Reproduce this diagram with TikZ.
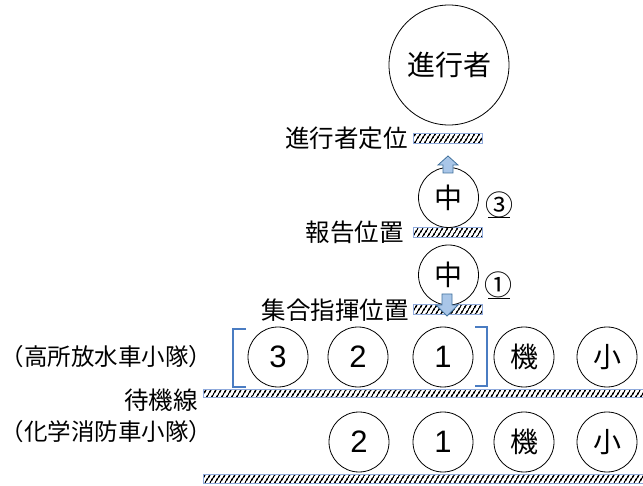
\documentclass[tikz,border=0pt]{standalone}
\usepackage{fontspec}
\setmainfont{Noto Sans CJK JP}
\newfontfamily\digitfont{Liberation Sans}
\usetikzlibrary{patterns.meta}
\definecolor{barblue}{HTML}{8FAADC}
\definecolor{brk}{HTML}{4A7CC2}
\definecolor{arrfill}{HTML}{A9C6E8}
\definecolor{arrline}{HTML}{41719C}
\tikzset{
  circ/.style={circle, draw, line width=0.8pt, inner sep=0pt, minimum size=60pt, font=\fontsize{28}{28}\selectfont},
  dcirc/.style={circ, font=\digitfont\fontsize{31}{31}\selectfont},
  bigcirc/.style={circ, minimum size=120pt},
  hbar/.style={draw=barblue, line width=1pt, inner sep=0pt, anchor=north west,
     pattern={Lines[angle=58,distance=4pt,line width=1.6pt]}, pattern color=black},
  lab/.style={font=\fontsize{24.5}{24.5}\selectfont, inner sep=0pt},
  plab/.style={font=\fontsize{23.5}{23.5}\selectfont, inner sep=0pt, anchor=west},
  cnum/.style={font=\fontsize{28}{28}\selectfont, inner sep=0pt},
  brack/.style={draw=brk, line width=1.6pt},
  blockarrow/.style={draw=arrline, fill=arrfill, line width=0.8pt, line join=miter}
}
\begin{document}
\begin{tikzpicture}[x=1pt,y=-1pt]
\useasboundingbox (0,0) rectangle (643,486);
\begin{scope}
\clip (0,0) rectangle (643,486);
% bars
\node[hbar, minimum width=69pt, minimum height=10pt] (b1) at (413,133) {};
\node[hbar, minimum width=69pt, minimum height=10pt] (b2) at (413,227) {};
\node[hbar, minimum width=69pt, minimum height=10pt] (b3) at (413,304) {};
\node[hbar, minimum width=450pt, minimum height=8pt] (b4) at (203,389) {};
\node[hbar, minimum width=450pt, minimum height=9pt] (b5) at (203,474) {};
\end{scope}
% top circle
\node[bigcirc] (lead) at (449,65) {進行者};
% middle circles
\node[circ] (m1) at (448.5,197.5) {中};
\node[circ] (m2) at (448.5,275) {中};
% labels
\node[lab, anchor=east] (l1) at (408,138) {進行者定位};
\node[lab, anchor=east] (l2) at (404,232) {報告位置};
\node[lab, anchor=east] (l3) at (409,310) {集合指揮位置};
\node[plab] (l4) at (0.5,357) {（高所放水車小隊）};
\node[lab, anchor=east] (l5) at (198,400) {待機線};
\node[plab] (l6) at (0.5,432) {（化学消防車小隊）};
% circled numbers
\node[cnum] (n3) at (499.5,204.5) {③};
\node[cnum] (n1) at (498.5,284.5) {①};
\coordinate (u3a) at (488,217); \coordinate (u3b) at (510,217);
\coordinate (u1a) at (488,298); \coordinate (u1b) at (510,298);
\draw[line width=0.8pt] (u3a) -- (u3b);
\draw[line width=0.8pt] (u1a) -- (u1b);
% row 1
\node[dcirc] (r13) at (278,357) {3};
\node[dcirc] (r12) at (358,357) {2};
\node[dcirc] (r11) at (443,357) {1};
\node[circ] (r1k) at (524,357) {機};
\node[circ] (r1s) at (607,357) {小};
% row 2
\node[dcirc] (r22) at (359,442) {2};
\node[dcirc] (r21) at (443,442) {1};
\node[circ] (r2k) at (524,442) {機};
\node[circ] (r2s) at (607,442) {小};
% brackets
\draw[brack] (246,329) -- (233,329) -- (233,387) -- (246,387);
\draw[brack] (475,327) -- (487,327) -- (487,386) -- (475,386);
% block arrows
\draw[blockarrow] (448,156) -- (458,165) -- (453,165) -- (453,173) -- (443,173) -- (443,165) -- (438,165) -- cycle;
\draw[blockarrow] (442,294) -- (452,294) -- (452,305) -- (458,305) -- (447,316) -- (436,305) -- (442,305) -- cycle;
\end{tikzpicture}
\end{document}
